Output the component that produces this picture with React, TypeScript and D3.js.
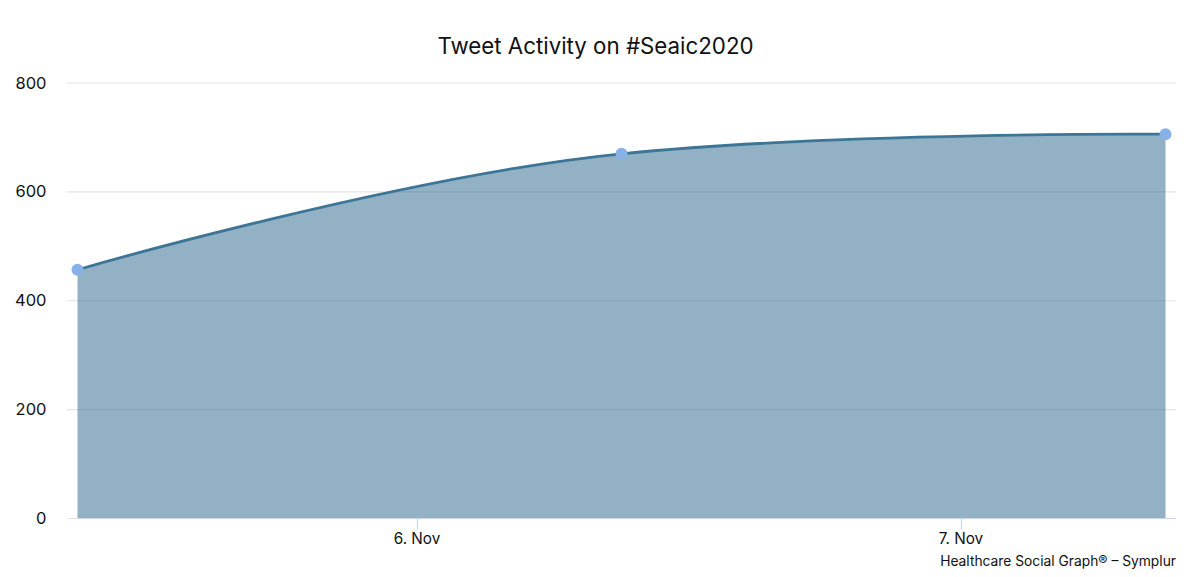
import React from "react";
import * as d3 from "d3";

const titleText = "Tweet Activity on #Seaic2020";
const creditText = "Healthcare Social Graph® – Symplur";
const times = ["2020-11-05T09:00:00Z", "2020-11-06T09:00:00Z", "2020-11-07T09:00:00Z"];
const tweetCounts = [457, 670, 706];
const yTicks = [0, 200, 400, 600, 800];
const xTickTimes = ["2020-11-06T00:00:00Z", "2020-11-07T00:00:00Z"];
const xTickLabels = ["6. Nov", "7. Nov"];

const W = 1200, H = 577;
const FONT = "Inter, 'Open Sans', sans-serif";

// Spline in the manner of the source chart: end points have a flat control,
// inner points share a tangent a little softer than the neighbour secant.
function splineCurve(context: any) {
  let line = NaN;
  let pts: [number, number][] = [];
  return {
    areaStart() { line = 0; },
    areaEnd() { line = NaN; },
    lineStart() { pts = []; },
    point(px: number, py: number) { pts.push([+px, +py]); },
    lineEnd() {
      const n = pts.length;
      if (n > 0) {
        if (line) context.lineTo(pts[0][0], pts[0][1]);
        else context.moveTo(pts[0][0], pts[0][1]);
        const slope = (i: number) =>
          i <= 0 || i >= n - 1 ? 0 : (0.8 * (pts[i + 1][1] - pts[i - 1][1])) / (pts[i + 1][0] - pts[i - 1][0]);
        for (let i = 1; i < n; i++) {
          const [x0, y0] = pts[i - 1];
          const [x1, y1] = pts[i];
          const d = (x1 - x0) / 2.5;
          const c0x = i - 1 === 0 ? x0 : x0 + d;
          const c0y = i - 1 === 0 ? y0 : y0 + slope(i - 1) * d;
          const c1x = i === n - 1 ? x1 : x1 - d;
          const c1y = i === n - 1 ? y1 : y1 - slope(i) * d;
          context.bezierCurveTo(c0x, c0y, c1x, c1y, x1, y1);
        }
      }
      if (line || (line !== 0 && n === 1)) context.closePath();
      line = 1 - line;
    },
  };
}

export default function App() {
  const dates = times.map((t) => new Date(t));
  const x = d3.scaleUtc().domain([dates[0], dates[2]]).range([77.5, 1165.5]);
  const y = d3.scaleLinear().domain([0, 800]).range([518.5, 83]);
  const pts = dates.map((d, i) => [d, tweetCounts[i]] as [Date, number]);
  const line = d3.line<[Date, number]>().x((d) => x(d[0])).y((d) => y(d[1])).curve(splineCurve as any);
  const area = d3.area<[Date, number]>().x((d) => x(d[0])).y0(y(0)).y1((d) => y(d[1])).curve(splineCurve as any);

  return (
    <svg width={W} height={H} viewBox={`0 0 ${W} ${H}`} style={{ position: "absolute", left: 0, top: 0, display: "block", background: "#fff" }} fontFamily={FONT}>
      <text x={595.5} y={54} textAnchor="middle" fontSize={22.3} fill="#111">{titleText}</text>
      {yTicks.map((t) => (
        <g key={t}>
          <line x1={67} x2={1176} y1={y(t)} y2={y(t)} stroke="#e4e4e4" strokeWidth={1.2} />
          <text x={46.5} y={y(t) + 5.5} textAnchor="end" fontSize={16.5} fill="#111">{t}</text>
        </g>
      ))}
      <path d={area(pts) ?? ""} fill="#2f6a90" fillOpacity={0.52} />
      <line x1={78} x2={1176} y1={y(0)} y2={y(0)} stroke="#ccd6eb" strokeWidth={1.2} />
      {xTickTimes.map((t, i) => {
        const px = x(new Date(t));
        return (
          <g key={t}>
            <line x1={px} x2={px} y1={y(0)} y2={y(0) + 11} stroke="#ccd6eb" strokeWidth={1.2} />
            <text x={px - 0.5} y={544} textAnchor="middle" fontSize={15.3} fill="#111">{xTickLabels[i]}</text>
          </g>
        );
      })}
      <path d={line(pts) ?? ""} fill="none" stroke="#3c7596" strokeWidth={2.8} />
      {pts.map((d, i) => (
        <circle key={i} cx={x(d[0])} cy={y(d[1])} r={6} fill="#88b1e8" />
      ))}
      <text x={1176} y={566} textAnchor="end" fontSize={13.8} fill="#111">{creditText}</text>
    </svg>
  );
}
